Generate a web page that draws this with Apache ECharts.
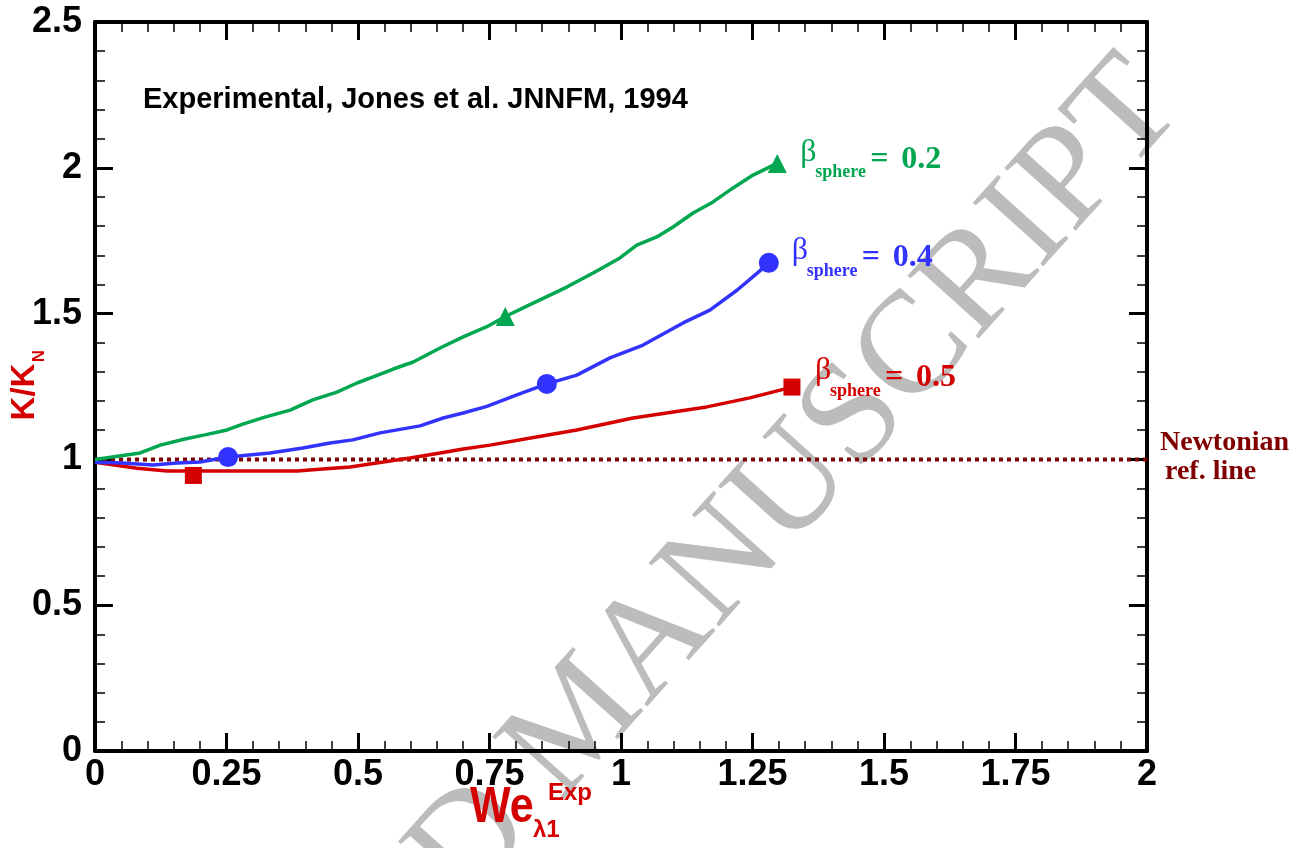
<!DOCTYPE html>
<html>
<head>
<meta charset="utf-8">
<script src="https://cdn.jsdelivr.net/npm/echarts@6/dist/echarts.min.js"></script>
<style>
  html, body { margin: 0; padding: 0; background: #fff; }
  #chart { width: 1308px; height: 848px; }
</style>
</head>
<body>
<div id="chart"></div>
<script>
// Tick labels
const xTickLabels = ['0', '0.25', '0.5', '0.75', '1', '1.25', '1.5', '1.75', '2'];
const yTickLabels = ['0', '0.5', '1', '1.5', '2', '2.5'];

// Drag ratio K/K_N versus We (experimental curves)
const beta02Curve = [
  [0, 1.0], [0.086, 1.022], [0.124, 1.049], [0.171, 1.070], [0.209, 1.084], [0.251, 1.101],
  [0.281, 1.121], [0.323, 1.145], [0.371, 1.169], [0.414, 1.204], [0.460, 1.231], [0.498, 1.262],
  [0.529, 1.283], [0.567, 1.310], [0.605, 1.334], [0.656, 1.382], [0.700, 1.420], [0.745, 1.455],
  [0.780, 1.490], [0.833, 1.536], [0.897, 1.591], [0.947, 1.639], [0.998, 1.691], [1.030, 1.735],
  [1.068, 1.763], [1.099, 1.797], [1.137, 1.845], [1.175, 1.883], [1.213, 1.931], [1.251, 1.975],
  [1.283, 2.003], [1.297, 2.015]
];
const beta04Curve = [
  [0, 0.99], [0.053, 0.988], [0.110, 0.981], [0.156, 0.988], [0.200, 0.991], [0.253, 1.008],
  [0.333, 1.022], [0.395, 1.039], [0.447, 1.056], [0.490, 1.067], [0.542, 1.091], [0.618, 1.115],
  [0.662, 1.142], [0.700, 1.159], [0.745, 1.182], [0.802, 1.221], [0.859, 1.259], [0.916, 1.289],
  [0.979, 1.348], [1.042, 1.392], [1.118, 1.468], [1.169, 1.512], [1.221, 1.581], [1.259, 1.639],
  [1.281, 1.674]
];
const beta05Curve = [
  [0, 0.99], [0.080, 0.970], [0.137, 0.960], [0.243, 0.960], [0.319, 0.960], [0.384, 0.960],
  [0.433, 0.967], [0.485, 0.974], [0.548, 0.991], [0.599, 1.005], [0.656, 1.022], [0.700, 1.036],
  [0.751, 1.049], [0.850, 1.080], [0.916, 1.101], [1.023, 1.142], [1.163, 1.180], [1.245, 1.211],
  [1.325, 1.248]
];
const beta02Markers = [[0.78, 1.49], [1.297, 2.015]];
const beta04Markers = [[0.253, 1.008], [0.859, 1.259], [1.281, 1.674]];
const beta05Markers = [[0.187, 0.945], [1.325, 1.248]];
const newtonianRef = [[0, 1], [2, 1]];

const betaValues = ['0.2', '0.4', '0.5'];

const GREEN = '#00a650';
const BLUE = '#3333ff';
const RED = '#d40000';
const MAROON = '#800000';
const SANS = '"Liberation Sans", Arial, Helvetica, sans-serif';
const SERIF = '"Liberation Serif", "Times New Roman", Times, serif';

const chart = echarts.init(document.getElementById('chart'));

function axisBase(extra) {
  return Object.assign({
    type: 'value',
    axisLine: { show: true, onZero: false, lineStyle: { color: '#000', width: 4 } },
    axisTick: { show: true, inside: true, length: 18, lineStyle: { color: '#000', width: 3 } },
    minorTick: { show: true, splitNumber: 5, length: 10, lineStyle: { color: '#000', width: 1.5 } },
    splitLine: { show: false },
    minorSplitLine: { show: false }
  }, extra);
}

const labelStyle = { color: '#000', fontSize: 36, fontWeight: 'bold', fontFamily: SANS };

const option = {
  animation: false,
  backgroundColor: '#fff',
  grid: { left: 95, right: 161, top: 22, bottom: 97, containLabel: false },
  xAxis: [
    axisBase({
      min: 0, max: 2, interval: 0.25, position: 'bottom',
      axisLabel: Object.assign({ margin: 6, formatter: v => xTickLabels[Math.round(v / 0.25)] }, labelStyle)
    }),
    axisBase({ min: 0, max: 2, interval: 0.25, position: 'top', axisLabel: { show: false } })
  ],
  yAxis: [
    axisBase({
      min: 0, max: 2.5, interval: 0.5, position: 'left',
      axisLabel: Object.assign({ margin: 13, formatter: v => yTickLabels[Math.round(v / 0.5)] }, labelStyle)
    }),
    axisBase({ min: 0, max: 2.5, interval: 0.5, position: 'right', axisLabel: { show: false } })
  ],
  series: [
    {
      type: 'line', data: newtonianRef, showSymbol: false, z: 3,
      lineStyle: { color: MAROON, width: 4, type: [4, 4], cap: 'butt' }
    },
    { type: 'line', data: beta05Curve, showSymbol: false, z: 4, lineStyle: { color: RED, width: 3.5 } },
    { type: 'line', data: beta04Curve, showSymbol: false, z: 4, lineStyle: { color: BLUE, width: 3.5 } },
    { type: 'line', data: beta02Curve, showSymbol: false, z: 4, lineStyle: { color: GREEN, width: 3.5 } },
    { type: 'scatter', data: beta05Markers, symbol: 'rect', symbolSize: 17, z: 5, itemStyle: { color: RED, opacity: 1 } },
    { type: 'scatter', data: beta04Markers, symbol: 'circle', symbolSize: 20, z: 5, itemStyle: { color: BLUE, opacity: 1 } },
    { type: 'scatter', data: beta02Markers, symbol: 'triangle', symbolSize: 19, z: 5, itemStyle: { color: GREEN, opacity: 1 } }
  ]
};
chart.setOption(option);

// Annotations
function px(pt) { return chart.convertToPixel({ xAxisIndex: 0, yAxisIndex: 0 }, pt); }

function betaLabel(anchor, dy, value, color) {
  const p = px(anchor);
  const x0 = p[0] + 23;
  const base = p[1] + dy;
  return [
    { type: 'text', x: x0, y: base, z: 20,
      style: { text: 'β', font: '32px ' + SERIF, fill: color, textVerticalAlign: 'bottom', textAlign: 'left' } },
    { type: 'text', x: x0 + 15, y: base + 13, z: 20,
      style: { text: 'sphere', font: 'bold 18px ' + SERIF, fill: color, textVerticalAlign: 'bottom', textAlign: 'left' } },
    { type: 'text', x: x0 + 70, y: base + 7, z: 20,
      style: { text: '=', font: 'bold 32px ' + SERIF, fill: color, textVerticalAlign: 'bottom', textAlign: 'left' } },
    { type: 'text', x: x0 + 101, y: base + 7, z: 20,
      style: { text: value, font: 'bold 32px ' + SERIF, fill: color, textVerticalAlign: 'bottom', textAlign: 'left' } }
  ];
}

const ends = [beta02Markers[1], beta04Markers[2], beta05Markers[1]];
const graphics = [];
graphics.push(...betaLabel(ends[0], 5, betaValues[0], GREEN));
graphics.push(...betaLabel(ends[1], 4, betaValues[1], BLUE));
graphics.push(...betaLabel(ends[2], 0, betaValues[2], RED));

// Source note
graphics.push({ type: 'text', x: 143, y: 100, z: 20,
  style: { text: 'Experimental, Jones et al. JNNFM, 1994', font: 'bold 29px ' + SANS, fill: '#000',
    textVerticalAlign: 'middle', textAlign: 'left' } });

// Reference line label
graphics.push({ type: 'text', x: 1160, y: 443, z: 20,
  style: { text: 'Newtonian', font: 'bold 28px ' + SERIF, fill: MAROON, textVerticalAlign: 'middle', textAlign: 'left' } });
graphics.push({ type: 'text', x: 1165, y: 472, z: 20,
  style: { text: 'ref. line', font: 'bold 28px ' + SERIF, fill: MAROON, textVerticalAlign: 'middle', textAlign: 'left' } });

// X axis title: We_{λ1}^{Exp}
graphics.push({ type: 'text', x: 470, y: 808, z: 20, scaleX: 0.86,
  style: { text: 'We', font: 'bold 50px ' + SANS, fill: RED, textVerticalAlign: 'middle', textAlign: 'left' } });
graphics.push({ type: 'text', x: 533, y: 830, z: 20,
  style: { text: 'λ1', font: 'bold 24px ' + SANS, fill: RED, textVerticalAlign: 'middle', textAlign: 'left' } });
graphics.push({ type: 'text', x: 548, y: 793, z: 20,
  style: { text: 'Exp', font: 'bold 24px ' + SANS, fill: RED, textVerticalAlign: 'middle', textAlign: 'left' } });

// Y axis title: K/K_N
graphics.push({ type: 'text', x: 25, y: 392, rotation: Math.PI / 2, z: 20,
  style: { text: 'K/K', font: 'bold 33px ' + SANS, fill: RED, textVerticalAlign: 'middle', textAlign: 'center' } });
graphics.push({ type: 'text', x: 39, y: 356, rotation: Math.PI / 2, z: 20,
  style: { text: 'N', font: 'bold 17px ' + SANS, fill: RED, textVerticalAlign: 'middle', textAlign: 'center' } });

// Diagonal watermark
graphics.push({ type: 'text', x: 60, y: 1410, rotation: 48 * Math.PI / 180, z: -10, zlevel: 0,
  style: { text: 'ACCEPTED MANUSCRIPT', font: '145px ' + SERIF, fill: '#bcbcbc',
    textVerticalAlign: 'bottom', textAlign: 'left' } });

chart.setOption({ graphic: graphics });
</script>
</body>
</html>
